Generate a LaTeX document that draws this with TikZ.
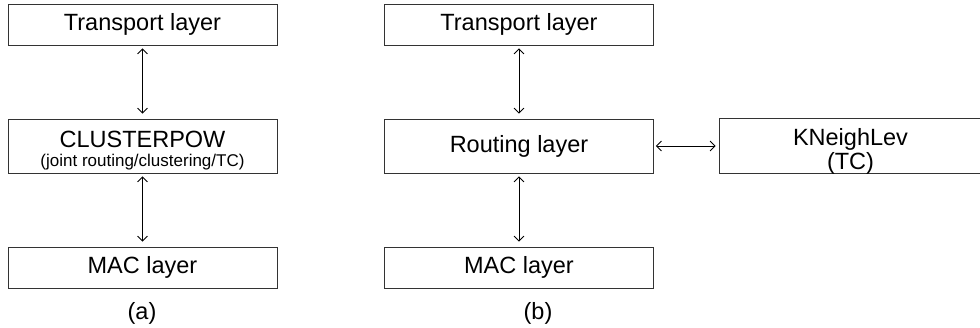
\documentclass[tikz,border=0pt]{standalone}
\usepackage{fontspec}
\setmainfont{Liberation Sans}
\usetikzlibrary{arrows.meta}

\begin{document}
\begin{tikzpicture}[x=1pt,y=1pt,every node/.style={font=\fontsize{23.5}{25}\selectfont},
  layer/.style={draw=black!80,line width=.8pt,minimum width=269pt,minimum height=41pt,inner sep=0pt,align=center},
  link/.style={line width=.8pt,{Straight Barb[length=5pt,width=10pt]}-{Straight Barb[length=5pt,width=10pt]}}]
\useasboundingbox (0,0) rectangle (980,327);
% (a) joint design
\node[layer] (ta) at (142.5,302.5) {Transport layer};
\node[layer,minimum height=54pt,text height=48pt,text depth=6pt] (ca) at (142.5,181)
  {CLUSTERPOW\\[-5pt]{\fontsize{17}{18}\selectfont(joint routing/clustering/TC)}};
\node[layer] (ma) at (142.5,59.5) {MAC layer};
\draw[link,shorten <=3pt,shorten >=5pt] (ta.south) -- (ca.north);
\draw[link,shorten <=3pt,shorten >=5pt] (ca.south) -- (ma.north);
\node (capa) at (142,14) {(a)};
% (b) layered design
\node[layer] (tb) at (519,302.5) {Transport layer};
\node[layer,minimum height=54pt] (rb) at (519,181) {Routing layer};
\node[layer] (mb) at (519,59.5) {MAC layer};
\node[layer,minimum width=263pt,minimum height=55pt,text height=52pt,text depth=3pt] (kn) at (850.5,181.5)
  {KNeighLev\\[0pt](TC)};
\draw[link,shorten <=3pt,shorten >=5pt] (tb.south) -- (rb.north);
\draw[link,shorten <=3pt,shorten >=5pt] (rb.south) -- (mb.north);
\draw[link,shorten <=2pt,shorten >=3pt] (rb.east) -- (rb.east -| kn.west);
\node (capb) at (538,14) {(b)};
\end{tikzpicture}
\end{document}
